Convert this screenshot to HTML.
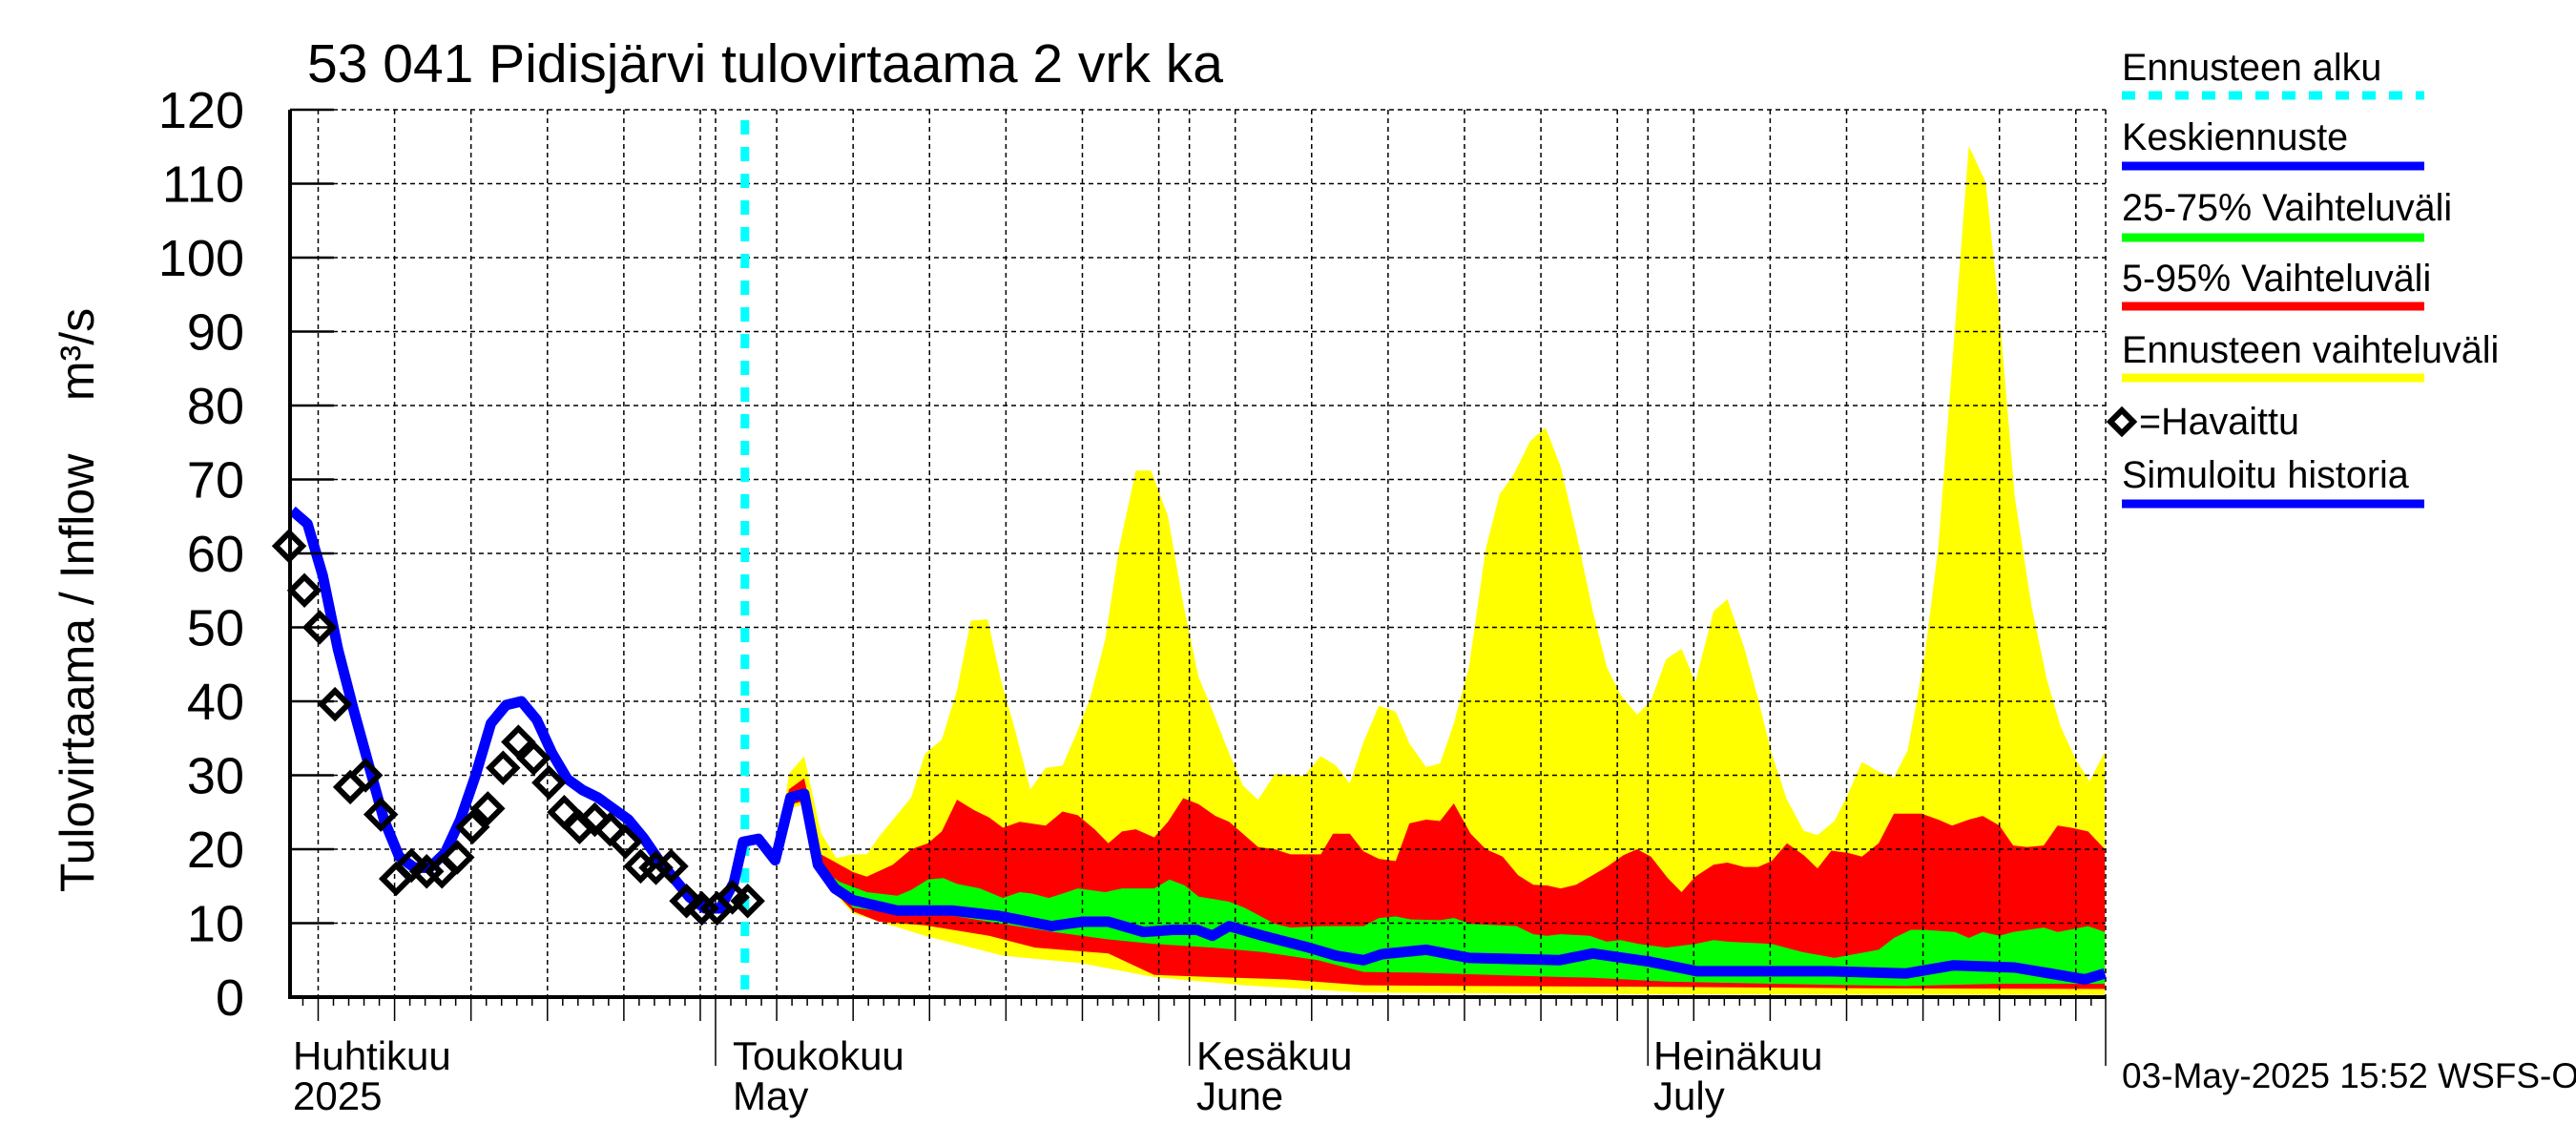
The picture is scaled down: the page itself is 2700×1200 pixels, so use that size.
<!DOCTYPE html>
<html><head><meta charset="utf-8"><style>
html,body{margin:0;padding:0;background:#fff;}
svg{display:block;font-family:"Liberation Sans",Arial,sans-serif;}
</style></head><body>
<svg id="chart" width="2700" height="1200" viewBox="0 0 2700 1200" xmlns="http://www.w3.org/2000/svg">
<rect x="0" y="0" width="2700" height="1200" fill="#fff"/>
<g id="bands"></g>
<g id="grid"></g>
<g id="series"></g>
<g id="axes"></g>
<text x="322" y="86" font-size="57">53 041 Pidisjärvi tulovirtaama 2 vrk ka</text>
<text transform="translate(98,629) rotate(-90)" text-anchor="middle" font-size="50">Tulovirtaama / Inflow&#160;&#160;&#160;&#160;m³/s</text>
<text x="307" y="1121" font-size="42">Huhtikuu</text>
<text x="307" y="1163" font-size="42">2025</text>
<text x="768" y="1121" font-size="42">Toukokuu</text>
<text x="768" y="1163" font-size="42">May</text>
<text x="1254" y="1121" font-size="42">Kesäkuu</text>
<text x="1254" y="1163" font-size="42">June</text>
<text x="1733" y="1121" font-size="42">Heinäkuu</text>
<text x="1733" y="1163" font-size="42">July</text>
<g font-size="39.5">
 <text x="2224" y="84">Ennusteen alku</text>
 <line x1="2224" y1="100" x2="2541" y2="100" stroke="#00ffff" stroke-width="9" stroke-dasharray="14,14"/>
 <text x="2224" y="157">Keskiennuste</text>
 <line x1="2224" y1="174" x2="2541" y2="174" stroke="#0000ff" stroke-width="9"/>
 <text x="2224" y="231">25-75% Vaihteluväli</text>
 <line x1="2224" y1="249" x2="2541" y2="249" stroke="#00ff00" stroke-width="9"/>
 <text x="2224" y="305">5-95% Vaihteluväli</text>
 <line x1="2224" y1="321" x2="2541" y2="321" stroke="#ff0000" stroke-width="9"/>
 <text x="2224" y="380">Ennusteen vaihteluväli</text>
 <line x1="2224" y1="396" x2="2541" y2="396" stroke="#ffff00" stroke-width="9"/>
 <path d="M2224,430 L2236,442 L2224,454 L2212,442 Z" fill="none" stroke="#000" stroke-width="6"/>
 <text x="2242" y="455">=Havaittu</text>
 <text x="2224" y="511">Simuloitu historia</text>
 <line x1="2224" y1="528" x2="2541" y2="528" stroke="#0000ff" stroke-width="9"/>
</g>
<text x="2224" y="1140" font-size="37">03-May-2025 15:52 WSFS-O</text>
</svg>
<script>
// Data: [day relative to May 1, value m3/s]
const yTicks = [0,10,20,30,40,50,60,70,80,90,100,110,120];
const forecastStartDay = 1.92;
const observedStartDay = -27.9;
const observed = [61,55,50,39.6,28.4,30,24.7,16,17.8,17,17,18.9,23,25.5,31,34.5,32.3,29,25,23,24,22.7,21,17.7,17.5,17.7,13,12,12,13.5,13];
const median = [[-27.7,65.8],[-26.7,64],[-25.7,57],[-24.7,47],[-23.7,39],[-22.7,31.5],[-21.7,24],[-20.7,19],[-19.7,17.5],[-18.7,17.5],[-17.7,19.5],[-16.7,24],[-15.7,30],[-14.7,37],[-13.7,39.5],[-12.7,40],[-11.7,37.5],[-10.7,33],[-9.7,29.5],[-8.7,28],[-7.7,27],[-6.7,25.5],[-5.7,24],[-4.7,21.5],[-3.7,18.5],[-2.7,16],[-1.7,13.5],[-0.7,12],[0.3,12],[1.2,15.5],[1.8,21],[2.8,21.4],[3.9,18.5],[4.9,27],[5.8,27.5],[6.7,17.9],[7.8,14.7],[9,13.1],[11.9,11.7],[15.5,11.7],[18.5,11],[22,9.6],[24,10.2],[25.7,10.2],[28,8.8],[29.9,9.1],[31.5,9.1],[32.5,8.3],[33.6,9.6],[35.8,8.3],[38.8,6.7],[40.6,5.6],[42.4,5],[43.6,5.8],[46.5,6.4],[49.3,5.3],[55.2,5],[57.4,5.9],[61.1,4.8],[64.2,3.5],[68.5,3.5],[72.9,3.5],[77.9,3.2],[81,4.3],[85,4],[89.6,2.4],[90.9,3.2]];
const yellowHigh = [[2,21],[3,22],[4,19],[4.8,30.2],[5.8,32.6],[6.9,22.2],[7.9,18.8],[9,19.3],[9.9,19.3],[10.7,21.7],[12.8,27],[13.7,32.9],[14.8,34.8],[15.8,41.5],[16.7,50.9],[17.8,51.1],[18.7,42.6],[19.6,36.1],[20.6,28.1],[21.6,31],[22.7,31.3],[23.6,35.6],[24.5,40.4],[25.5,48.4],[26.4,60.7],[27.5,71.2],[28.5,71.2],[29.6,65],[30.6,53.2],[31.6,43.3],[32.5,38.8],[33.4,34],[34.5,28.6],[35.5,26.7],[36.6,30.2],[38.5,29.9],[39.6,32.6],[40.6,31.3],[41.5,28.9],[42.4,34.5],[43.4,39.4],[44.5,38.6],[45.4,34.3],[46.5,31.1],[47.4,31.6],[48.3,37],[49.3,44.7],[50.4,60.7],[51.3,68],[52.2,70.6],[53.3,75.2],[54.3,77],[55.3,71.7],[56.3,62.9],[57.4,52.2],[58.3,44.7],[59.2,40.9],[60.3,38.2],[61.2,40.1],[62.2,45.7],[63.2,47.1],[64.1,42.6],[65.3,52.2],[66.2,53.8],[67.3,47.3],[68.2,40.4],[69.1,32.9],[70.1,26.7],[71.2,22.5],[72.1,21.9],[73.2,23.8],[74.1,27.5],[75,31.8],[76.1,30.5],[77.1,29.7],[78,33.4],[79.1,46],[80,60.8],[82,115.1],[83.1,110.2],[84,92.4],[85,67.7],[86.1,52.9],[87.1,43],[88,36.6],[89,32.1],[89.9,29.2],[90.9,33.2]];
const redHigh = [[2,21],[3,21.4],[4,18.6],[4.8,28.1],[5.8,29.6],[6.9,19.3],[9,16.9],[9.9,16.3],[11.6,17.9],[12.8,20],[13.9,20.8],[14.8,22.4],[15.8,26.7],[16.9,25.3],[17.9,24.3],[18.8,22.9],[19.9,23.7],[21.6,23.2],[22.7,25.1],[23.7,24.6],[24.8,22.7],[25.7,20.8],[26.6,22.4],[27.5,22.7],[28.7,21.6],[29.6,23.7],[30.6,26.9],[31.6,26.1],[32.7,24.5],[33.6,23.7],[34.5,22.1],[35.5,20.3],[36.6,20],[37.6,19.3],[39.6,19.3],[40.4,22.1],[41.5,22.1],[42.4,19.7],[43.4,18.7],[44.5,18.4],[45.4,23.5],[46.5,24],[47.4,23.8],[48.3,26.2],[49.4,22.1],[50.4,20],[51.5,19],[52.5,16.5],[53.5,15.2],[54.4,15.1],[55.3,14.7],[56.3,15.2],[57.4,16.5],[58.3,17.6],[59.4,19.2],[60.3,20],[61.2,19],[62.3,16.1],[63.2,14.2],[64.1,16.3],[65.3,17.9],[66.2,18.2],[67.3,17.6],[68.2,17.6],[69.1,18.4],[70.1,20.8],[71.2,19.2],[72.1,17.4],[73,19.8],[74.1,19.5],[75,19],[76.1,20.8],[77.1,24.8],[78.9,24.8],[80,24],[80.9,23.2],[82,24],[82.9,24.5],[84,23.2],[84.9,20.5],[85.8,20.3],[86.9,20.5],[87.8,23.2],[88.7,22.9],[89.8,22.4],[90.9,20]];
const greenHigh = [[2,21],[3,21.4],[4,18.5],[4.8,27.3],[5.8,28],[6.9,17.4],[8.1,15.6],[9.9,14.2],[11.9,13.7],[12.8,14.5],[13.9,15.9],[14.9,16.1],[15.8,15.3],[17.3,14.7],[18.8,13.4],[19.9,14.2],[20.7,14],[21.8,13.4],[22.7,14],[23.7,14.7],[25.5,14.2],[26.6,14.7],[28.7,14.7],[29.7,15.9],[30.7,15.1],[31.6,13.6],[33.6,12.9],[34.6,12.1],[36.6,9.9],[37.6,9.4],[39.6,9.6],[42.4,9.6],[43.4,10.7],[44.5,10.9],[45.5,10.5],[47.4,10.4],[48.3,10.7],[49.4,9.9],[52.4,9.6],[53.5,8.5],[54.4,8.3],[55.3,8.5],[57.2,8.3],[58.3,7.5],[59.2,7.7],[60.4,7.2],[62.2,6.7],[64.1,7.2],[65.3,7.7],[66.2,7.5],[69.1,7.2],[71.1,6.1],[73.2,5.3],[76.1,6.4],[77.1,8],[78.2,9.1],[79.1,9.1],[81.1,8.8],[82,8],[82.9,8.8],[84,8.3],[84.9,8.8],[86.9,9.4],[87.8,8.8],[89.8,9.6],[90.9,8.8]];
const greenLow = [[2,21],[3,21.4],[4,18.5],[4.8,26.5],[5.8,27],[6.9,17.5],[7.8,14.5],[9,12.1],[11.9,11.3],[15.5,11],[18.8,9.9],[22.1,8.8],[25.7,7.8],[28.7,7.2],[32.5,6.7],[35.8,6.1],[39.4,5],[42.4,3.4],[46,3.3],[52.2,2.9],[57.4,2.6],[62.3,2.1],[69.1,1.8],[77.8,1.5],[84,1.8],[90.9,1.8]];
const redLow = [[2,21],[3,21.4],[4,18.4],[4.8,26],[5.8,26.5],[6.9,17.3],[7.8,14.2],[9,11.6],[10.7,10.2],[13.7,9.7],[17.9,8.3],[20.9,6.7],[25.7,5.9],[28.7,3],[32.8,2.7],[37.3,2.4],[42.4,1.6],[50,1.5],[62,1.4],[75,1.2],[90.9,1.1]];
const yellowLow = [[2,21],[3,21.3],[4,18.3],[4.8,25.5],[5.8,26],[6.9,17.1],[7.8,14],[9,11.3],[13.7,8.3],[18.8,5.6],[23.9,4.6],[28.7,2.7],[34.6,1.6],[42.4,0.6],[60,0.4],[90.9,0.3]];

const NS = 'http://www.w3.org/2000/svg';
const X0 = 304, X1 = 2207, Y0 = 1045, YT = 115;
function xs(d){ return 750 + d*16.02; }
function ys(v){ return Y0 - v*(Y0-YT)/120; }
function mk(tag, parent, attrs){
  const el = document.createElementNS(NS, tag);
  for (const k in attrs) el.setAttribute(k, attrs[k]);
  parent.appendChild(el);
  return el;
}
function bandPath(hi, lo){
  let p = hi.map((q,i)=>(i?'L':'M')+xs(q[0]).toFixed(1)+','+ys(q[1]).toFixed(1)).join(' ');
  for (let i=lo.length-1;i>=0;i--) p += ' L'+xs(lo[i][0]).toFixed(1)+','+ys(lo[i][1]).toFixed(1);
  return p+' Z';
}
const bands = document.getElementById('bands');
const b1 = mk('path', bands, {d: bandPath(yellowHigh, yellowLow), fill:'#ffff00'});


const b2 = mk('path', bands, {d: bandPath(redHigh, redLow), fill:'#ff0000'});


const b3 = mk('path', bands, {d: bandPath(greenHigh, greenLow), fill:'#00ff00'});



const grid = document.getElementById('grid');
yTicks.forEach(v=>{
  if (v===0) return;
  const l = mk('line', grid, {x1:X0, x2:X1, y1:ys(v), y2:ys(v), stroke:'#000', 'stroke-width':1.5, 'stroke-dasharray':'5,4'});
  
  
});
for (let d=-26; d<=91; d+=5){
  if (xs(d) > X1) break;
  const l = mk('line', grid, {x1:xs(d), x2:xs(d), y1:YT, y2:Y0, stroke:'#000', 'stroke-width':1.5, 'stroke-dasharray':'5,4'});
  
  
}
[0,31,61].forEach(d=>{
  const l = mk('line', grid, {x1:xs(d), x2:xs(d), y1:YT, y2:Y0, stroke:'#000', 'stroke-width':1.5, 'stroke-dasharray':'5,4'});
  
  
});
const rb = mk('line', grid, {x1:X1, x2:X1, y1:YT, y2:Y0, stroke:'#000', 'stroke-width':1.5, 'stroke-dasharray':'5,4'});



const series = document.getElementById('series');
const fs = mk('line', series, {x1:xs(forecastStartDay), x2:xs(forecastStartDay), y1:126, y2:Y0, stroke:'#00ffff', 'stroke-width':9, 'stroke-dasharray':'15,13'});


const ml = mk('polyline', series, {points: median.map(q=>xs(q[0]).toFixed(1)+','+ys(q[1]).toFixed(1)).join(' '), fill:'none', stroke:'#0000ff', 'stroke-width':11, 'stroke-linejoin':'round'});


observed.forEach((v,i)=>{
  const cx = xs(observedStartDay + i), cy = ys(v), r = 14;
  const dm = mk('path', series, {d:`M${cx},${cy-r} L${cx+r},${cy} L${cx},${cy+r} L${cx-r},${cy} Z`, fill:'none', stroke:'#000', 'stroke-width':6});
  
  
});

const axes = document.getElementById('axes');
const ya = mk('line', axes, {x1:X0, x2:X0, y1:YT, y2:Y0+2, stroke:'#000', 'stroke-width':4});


const xa = mk('line', axes, {x1:X0, x2:X1, y1:Y0, y2:Y0, stroke:'#000', 'stroke-width':4});


yTicks.forEach(v=>{
  const t = mk('line', axes, {x1:X0, x2:X0+46, y1:ys(v), y2:ys(v), stroke:'#000', 'stroke-width':2.5});
  
  
  const tx = mk('text', axes, {x:256, y:ys(v)+19, 'text-anchor':'end', 'font-size':54});
  
  
  tx.textContent = v;
});
for (let d=-27; d<=90; d++){
  const isGrid = ((d+26)%5===0);
  const isMonth = (d===0||d===31||d===61);
  const len = isMonth ? 72 : (isGrid ? 25 : 9);
  const t = mk('line', axes, {x1:xs(d), x2:xs(d), y1:Y0, y2:Y0+len, stroke:'#000', 'stroke-width':1.5});
  
  
}
const et = mk('line', axes, {x1:X1, x2:X1, y1:Y0, y2:Y0+72, stroke:'#000', 'stroke-width':1.5});


</script>
</body></html>
